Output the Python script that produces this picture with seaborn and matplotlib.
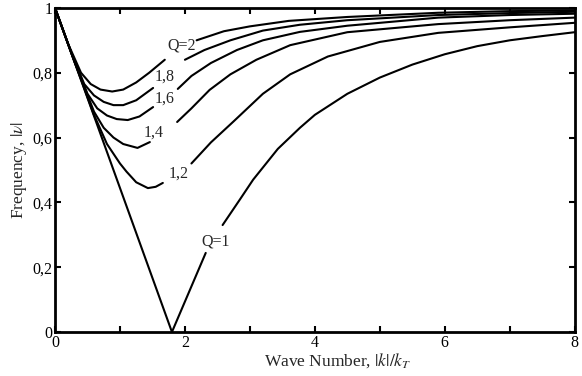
import matplotlib
matplotlib.use("Agg")
import matplotlib.pyplot as plt
from matplotlib.ticker import FixedLocator, FixedFormatter
import seaborn as sns
import pandas as pd

# values; each curve is split where its label sits
q1_k_a = [0.0, 1.8, 2.32]
q1_f_a = [1.0, 0.0, 0.244]
q1_k_b = [2.58, 2.85, 3.05, 3.43, 3.77, 4.0, 4.5, 5.0, 5.5, 6.0, 6.5, 7.0, 7.5, 8.0]
q1_f_b = [0.33, 0.41, 0.47, 0.565, 0.63, 0.67, 0.735, 0.785, 0.825, 0.857, 0.882, 0.90, 0.913, 0.925]

q12_k_a = [0.0, 0.3, 0.6, 0.8, 1.0, 1.1, 1.25, 1.43, 1.55, 1.66]
q12_f_a = [1.0, 0.834, 0.67, 0.58, 0.52, 0.495, 0.462, 0.444, 0.448, 0.46]
q12_k_b = [2.1, 2.4, 2.75, 3.2, 3.62, 4.2, 5.0, 5.9, 7.0, 8.0]
q12_f_b = [0.52, 0.585, 0.65, 0.735, 0.795, 0.85, 0.895, 0.923, 0.94, 0.954]

q14_k_a = [0.0, 0.3, 0.6, 0.75, 0.9, 1.05, 1.27, 1.46]
q14_f_a = [1.0, 0.834, 0.68, 0.63, 0.60, 0.58, 0.568, 0.586]
q14_k_b = [1.88, 2.1, 2.38, 2.7, 3.1, 3.62, 4.5, 5.9, 7.0, 8.0]
q14_f_b = [0.648, 0.69, 0.747, 0.795, 0.84, 0.885, 0.925, 0.95, 0.962, 0.97]

q16_k_a = [0.0, 0.3, 0.5, 0.65, 0.8, 0.95, 1.12, 1.3, 1.51]
q16_f_a = [1.0, 0.835, 0.735, 0.69, 0.668, 0.657, 0.654, 0.665, 0.694]
q16_k_b = [1.89, 2.1, 2.4, 2.8, 3.2, 3.77, 4.5, 5.9, 7.0, 8.0]
q16_f_b = [0.75, 0.79, 0.83, 0.87, 0.90, 0.926, 0.945, 0.97, 0.978, 0.982]

q18_k_a = [0.0, 0.25, 0.45, 0.6, 0.75, 0.9, 1.05, 1.25, 1.51]
q18_f_a = [1.0, 0.862, 0.765, 0.73, 0.71, 0.70, 0.70, 0.715, 0.753]
q18_k_b = [2.0, 2.3, 2.7, 3.2, 3.77, 4.5, 5.9, 7.0, 8.0]
q18_f_b = [0.84, 0.87, 0.90, 0.93, 0.948, 0.962, 0.978, 0.984, 0.988]

q2_k_a = [0.0, 0.2, 0.4, 0.55, 0.7, 0.88, 1.05, 1.25, 1.45, 1.69]
q2_f_a = [1.0, 0.89, 0.80, 0.765, 0.748, 0.742, 0.748, 0.77, 0.80, 0.84]
q2_k_b = [2.18, 2.6, 3.0, 3.6, 4.5, 5.9, 7.0, 8.0]
q2_f_b = [0.90, 0.928, 0.943, 0.96, 0.972, 0.985, 0.99, 0.992]

# curve labels and where they sit
lab_txt = ['Q=2', '1,8', '1,6', '1,4', '1,2', 'Q=1']
lab_k = [1.95, 1.69, 1.69, 1.52, 1.90, 2.48]
lab_f = [0.885, 0.787, 0.72, 0.614, 0.49, 0.28]

x_ticks = [0, 1, 2, 3, 4, 5, 6, 7, 8]
x_tick_labels = ['0', '', '2', '', '4', '', '6', '', '8']
y_ticks = [0, 0.2, 0.4, 0.6, 0.8, 1.0]
y_tick_labels = ['0', '0,2', '0,4', '0,6', '0,8', '1']

# build one long table with a segment id per piece
segs = [
    (q1_k_a, q1_f_a), (q1_k_b, q1_f_b),
    (q12_k_a, q12_f_a), (q12_k_b, q12_f_b),
    (q14_k_a, q14_f_a), (q14_k_b, q14_f_b),
    (q16_k_a, q16_f_a), (q16_k_b, q16_f_b),
    (q18_k_a, q18_f_a), (q18_k_b, q18_f_b),
    (q2_k_a, q2_f_a), (q2_k_b, q2_f_b),
]
frames = []
for i, (k, f) in enumerate(segs):
    frames.append(pd.DataFrame({'k': k, 'freq': f, 'seg': i}))
df = pd.concat(frames, ignore_index=True)

sns.set_style('ticks')
plt.rcParams['font.family'] = ['Liberation Serif', 'DejaVu Serif']
plt.rcParams['mathtext.fontset'] = 'stix'

fig = plt.figure(figsize=(5.82, 3.76), dpi=100)
ax = fig.add_axes([0.0945, 0.117, 0.893, 0.862])

sns.lineplot(data=df, x='k', y='freq', units='seg', estimator=None,
             color='black', linewidth=1.5, sort=False, ax=ax, legend=False)

for t, xk, yf in zip(lab_txt, lab_k, lab_f):
    ax.text(xk, yf, t, ha='center', va='center', fontsize=11.5)

ax.set_xlim(0, 8)
ax.set_ylim(0, 1)
ax.xaxis.set_major_locator(FixedLocator(x_ticks))
ax.xaxis.set_major_formatter(FixedFormatter(x_tick_labels))
ax.yaxis.set_major_locator(FixedLocator(y_ticks))
ax.yaxis.set_major_formatter(FixedFormatter(y_tick_labels))

for s in ax.spines.values():
    s.set_linewidth(2.0)
    s.set_visible(True)
    s.set_color('black')
ax.tick_params(direction='in', length=4, width=1.5, top=True, right=True,
               labelsize=11.5, pad=2, colors='black')

ax.set_xlabel(r'Wave Number, $|k|/k_T$', fontsize=12.5, labelpad=0)
ax.xaxis.set_label_coords(0.544, -0.058, transform=ax.transAxes)
ax.xaxis.label.set_va('top')
ax.set_ylabel(r'Frequency, $|\nu|$', fontsize=12.5, labelpad=2)

plt.savefig('out.png', dpi=100)
